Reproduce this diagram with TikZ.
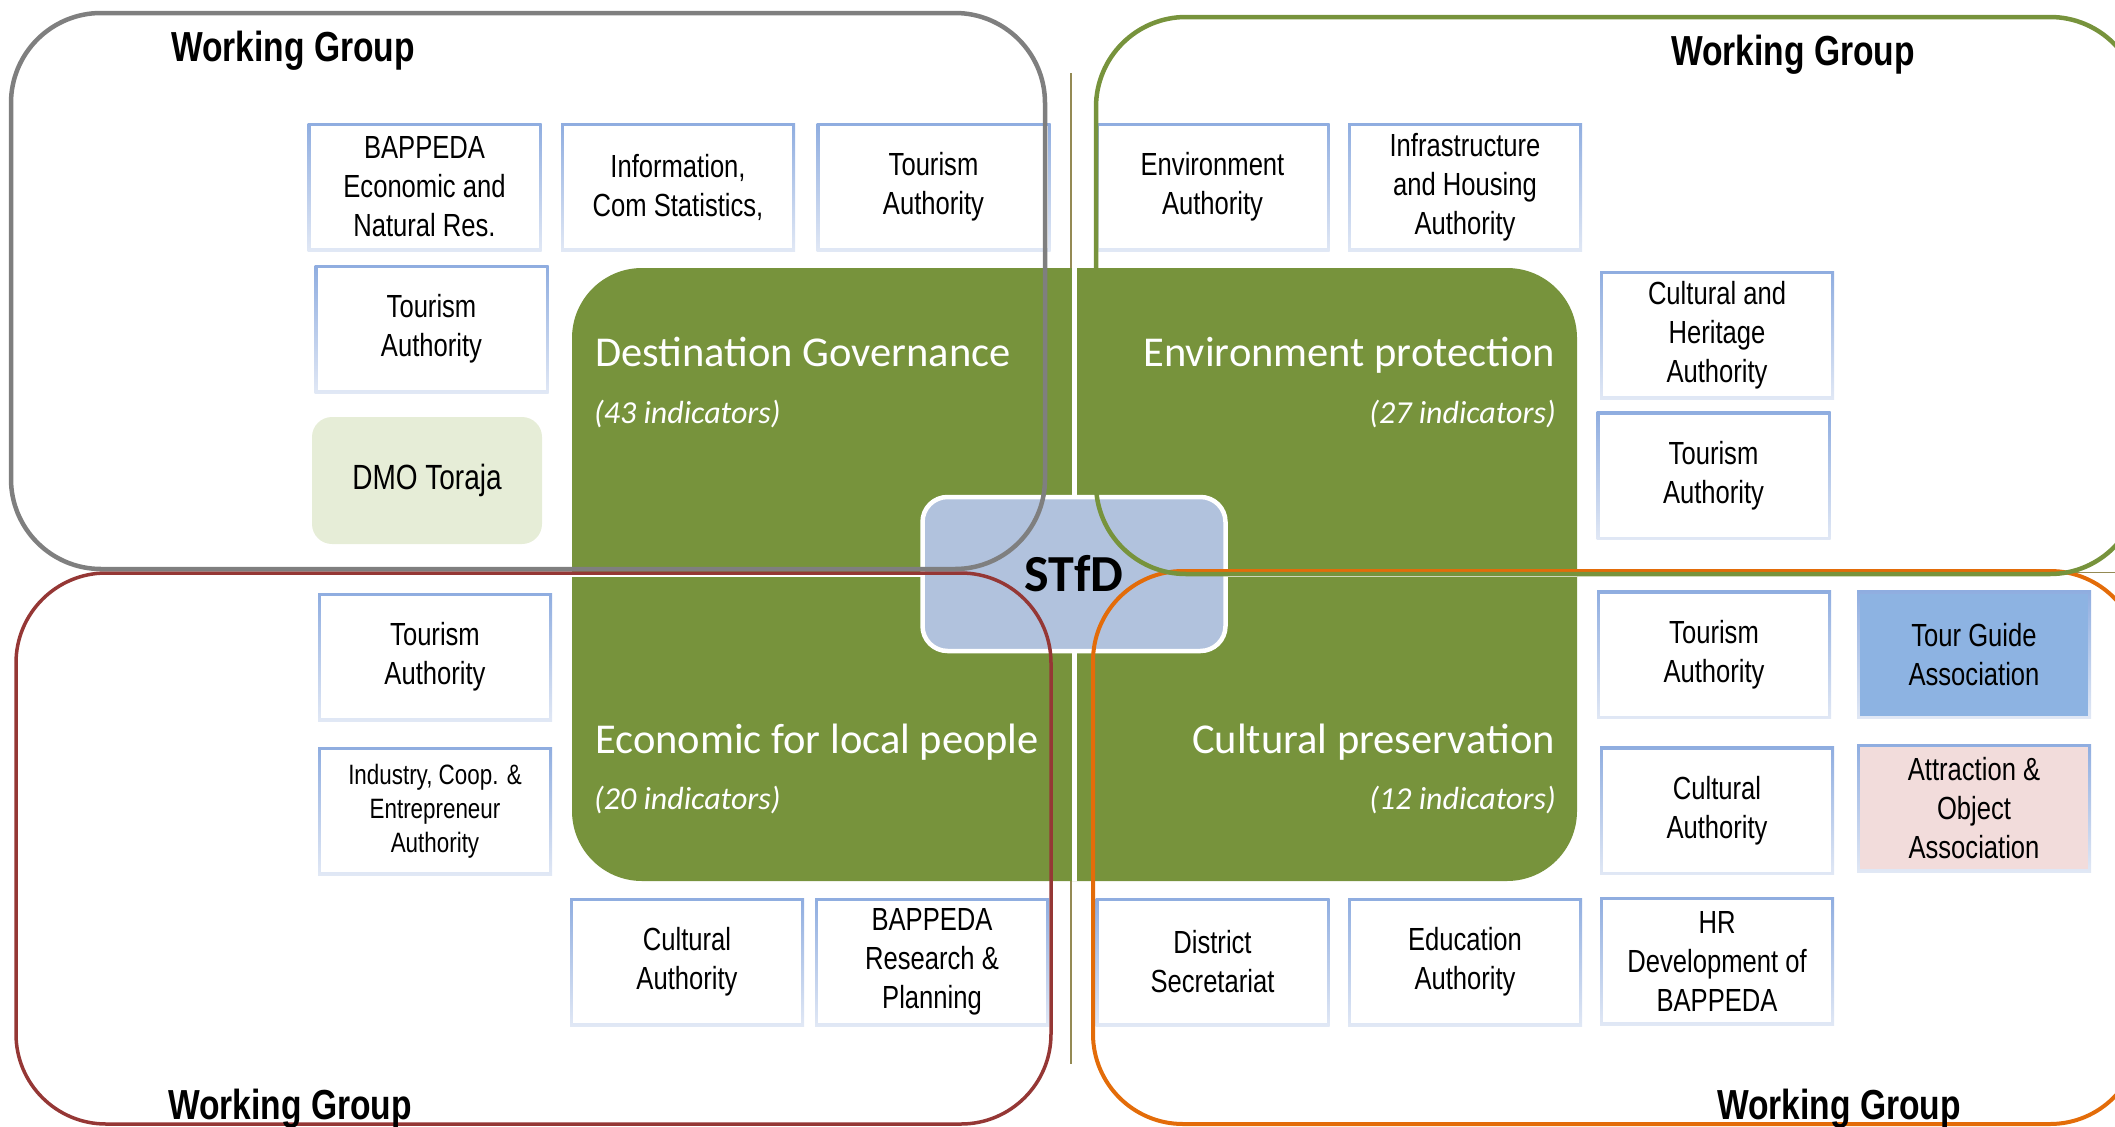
\documentclass[tikz,border=0pt]{standalone}
\usepackage{fontspec}
\usepackage{tikz}
\usetikzlibrary{calc}
\newfontfamily\boxfont[FakeStretch=0.8]{Liberation Sans}
\newfontfamily\calfont{Carlito}
\definecolor{qgreen}{HTML}{77933C}
\definecolor{stfdfill}{HTML}{B1C2DD}
\definecolor{wggray}{HTML}{7F7F7F}
\definecolor{wggreen}{HTML}{77933C}
\definecolor{wgred}{HTML}{953735}
\definecolor{wgorange}{HTML}{E36C09}
\definecolor{axisolive}{HTML}{948A54}
\definecolor{boxtop}{HTML}{8FADE0}
\definecolor{boxbot}{HTML}{E1E8F5}
\definecolor{guidefill}{HTML}{8DB3E2}
\definecolor{attrfill}{HTML}{F2DCDB}
\definecolor{dmofill}{HTML}{E6EDD7}

\begin{document}
\begin{tikzpicture}[x=1pt, y=-1pt,
  unitbox/.style={minimum width=234pt, minimum height=128pt, inner sep=0pt, align=center,
    font=\boxfont\fontsize{32}{39}\selectfont, top color=boxtop, bottom color=boxbot,
    path picture={\fill[#1] ([xshift=3pt,yshift=-3pt]path picture bounding box.north west) rectangle ([xshift=-3pt,yshift=3pt]path picture bounding box.south east);}},
  unitbox/.default=white,
  wgtitle/.style={anchor=base, inner sep=0pt, font=\boxfont\bfseries\fontsize{42}{50}\selectfont},
  qtitle/.style={text=white, inner sep=0pt, font=\calfont\fontsize{42.5}{50}\selectfont},
  qcount/.style={text=white, inner sep=0pt, font=\calfont\itshape\fontsize{32}{38}\selectfont},
  wgline/.style={line width=4.5pt, rounded corners=90pt}]
\useasboundingbox (0,0) rectangle (2115,1127);
\clip (0,0) rectangle (2115,1127);

\draw[axisolive, line width=1.5pt] (1071,73) -- (1071,1064);
\draw[axisolive, line width=1.5pt] (120,572.7) -- (2115,572.7);

\fill[qgreen, rounded corners=70pt] (572,268) rectangle (1577,881);
\draw[white, line width=5pt] (1074,268) -- (1074,881) (572,574.5) -- (1577,574.5);

\node[fill=stfdfill, draw=white, line width=4.5pt, rounded corners=25pt, minimum width=303pt, minimum height=154pt,
  font=\calfont\bfseries\fontsize{52}{60}\selectfont] (stfd) at (1074,574) {STfD};

\foreach \n/\x/\y/\t in {b1/424.5/187/{BAPPEDA\\Economic and\\Natural Res.}, b2/678/187/{Information,\\Com Statistics,},
  b3/933.5/187/{Tourism\\Authority}, b4/431.5/329/{Tourism\\Authority},
  e1/1212.5/187/{Environment\\Authority}, e2/1465/187/{Infrastructure\\and Housing\\Authority},
  e3/1717/335/{Cultural and\\Heritage\\Authority}, e4/1713.5/475.5/{Tourism\\Authority},
  l1/435/657/{Tourism\\Authority}, l3/687/962/{Cultural\\Authority}, l4/932/962/{BAPPEDA\\Research \&\\Planning},
  r1/1714/654.5/{Tourism\\Authority}, r3/1717/810.5/{Cultural\\Authority},
  r5/1212.5/962/{District\\Secretariat}, r6/1465/962/{Education\\Authority}, r7/1717/961/{HR\\Development of\\BAPPEDA}}
  \node[unitbox] (\n) at (\x,\y) {\t};
\node[unitbox, font=\boxfont\fontsize{28}{34}\selectfont] (l2) at (435,811) {Industry, Coop. \&\\Entrepreneur\\Authority};
\node[unitbox=guidefill] (r2) at (1974,654.5) {Tour Guide\\Association};
\node[unitbox=attrfill] (r4) at (1974,808) {Attraction \&\\Object\\Association};
\node[fill=dmofill, rounded corners=20pt, minimum width=230pt, minimum height=127pt,
  font=\boxfont\fontsize{35}{42}\selectfont] (dmo) at (427,480.5) {DMO Toraja};

\node[qtitle, anchor=base west] (gov) at (595,366.5) {Destination Governance};
\node[qcount, anchor=base west] (govn) at (594,423) {(43 indicators)};
\node[qtitle, anchor=base east] (env) at (1555,366.5) {Environment protection};
\node[qcount, anchor=base east] (envn) at (1556,423) {(27 indicators)};
\node[qtitle, anchor=base west] (eco) at (595,753.5) {Economic for local people};
\node[qcount, anchor=base west] (econ) at (594,809.5) {(20 indicators)};
\node[qtitle, anchor=base east] (cul) at (1555,753.5) {Cultural preservation};
\node[qcount, anchor=base east] (culn) at (1556,809.5) {(12 indicators)};

\draw[wgline, wgred, line width=3.5pt] (16,573) rectangle (1051,1124);
\draw[wgline, wgorange, line width=4pt] (1093,571) rectangle (2140,1124);
\draw[wgline, wggray] (11,13) rectangle (1045,569);
\draw[wgline, wggreen] (1096,17) rectangle (2140,574);

\node[wgtitle] (wg1) at (293,61) {Working Group};
\node[wgtitle] (wg2) at (1793,65) {Working Group};
\node[wgtitle] (wg3) at (290,1119.5) {Working Group};
\node[wgtitle] (wg4) at (1839,1119.5) {Working Group};
\end{tikzpicture}
\end{document}
